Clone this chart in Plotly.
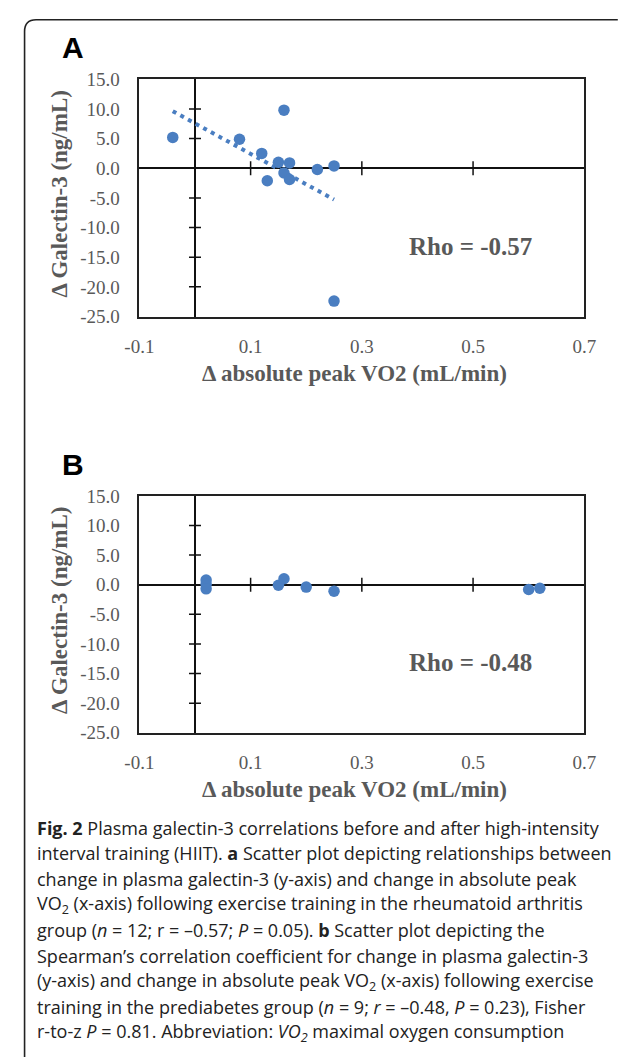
import numpy as np
import plotly.graph_objects as go

# ---------------- data ----------------
a_x = [-0.04, 0.08, 0.16, 0.12, 0.15, 0.17, 0.16, 0.17, 0.13, 0.22, 0.25, 0.25]
a_y = [5.2, 4.9, 9.8, 2.5, 1.0, 0.9, -0.8, -1.9, -2.1, -0.2, 0.4, -22.4]

b_x = [0.02, 0.02, 0.02, 0.15, 0.16, 0.20, 0.25, 0.60, 0.62]
b_y = [0.8, 0.1, -0.7, -0.1, 1.0, -0.4, -1.1, -0.8, -0.6]

x_ticks = [-0.1, 0.1, 0.3, 0.5, 0.7]
x_tick_labels = ["-0.1", "0.1", "0.3", "0.5", "0.7"]
y_ticks = [15, 10, 5, 0, -5, -10, -15, -20, -25]
y_tick_labels = ["15.0", "10.0", "5.0", "0.0", "-5.0", "-10.0", "-15.0", "-20.0", "-25.0"]

x_title = "Δ absolute peak VO2 (mL/min)"
y_title = "Δ Galectin-3 (ng/mL)"
rho_a = "Rho = -0.57"
rho_b = "Rho = -0.48"

caption_lines = [
    "<b>Fig. 2</b> Plasma galectin-3 correlations before and after high-intensity",
    "interval training (HIIT). <b>a</b> Scatter plot depicting relationships between",
    "change in plasma galectin-3 (y-axis) and change in absolute peak",
    "VO<sub>2</sub> (x-axis) following exercise training in the rheumatoid arthritis",
    "group (<i>n</i> = 12; r = –0.57; <i>P</i> = 0.05). <b>b</b> Scatter plot depicting the",
    "Spearman’s correlation coefficient for change in plasma galectin-3",
    "(y-axis) and change in absolute peak VO<sub>2</sub> (x-axis) following exercise",
    "training in the prediabetes group (<i>n</i> = 9; <i>r</i> = –0.48, <i>P</i> = 0.23), Fisher",
    "r-to-z <i>P</i> = 0.81. Abbreviation: <i>VO<sub>2</sub></i> maximal oxygen consumption",
]

# ---------------- layout constants ----------------
W, H = 625, 1063
def px(x):
    return x / W
def py(y):
    return 1 - y / H

BLUE = "#4A7EC1"
GRAY = "#595959"
SERIF = "Liberation Serif, Times New Roman, serif"
SANS = "Liberation Sans, Arial, sans-serif"

x0, x1 = 130, 595
panelA = (70.7, 312.7)
panelB = (495.7, 737.3)

fig = go.Figure()

# Trendline for panel A (least-squares fit of the data)
slope, intercept = np.polyfit(a_x, a_y, 1)
tx = np.array([min(a_x), max(a_x)])
fig.add_trace(go.Scatter(x=tx, y=slope * tx + intercept, mode="lines",
                         line=dict(color=BLUE, width=4, dash="4px,4.7px"),
                         xaxis="x", yaxis="y", hoverinfo="skip", showlegend=False))
fig.add_trace(go.Scatter(x=a_x, y=a_y, mode="markers",
                         marker=dict(color=BLUE, size=11.5), xaxis="x", yaxis="y",
                         showlegend=False))
fig.add_trace(go.Scatter(x=b_x, y=b_y, mode="markers",
                         marker=dict(color=BLUE, size=11.5), xaxis="x2", yaxis="y2",
                         showlegend=False))

def xaxis_cfg(anchor):
    return dict(domain=[px(x0), px(x1)], range=[-0.1, 0.7], anchor=anchor,
                tickvals=x_ticks, ticktext=x_tick_labels, ticks="",
                ticklabelstandoff=12,
                tickfont=dict(family=SERIF, size=19, color=GRAY),
                showgrid=False, zeroline=True, zerolinecolor="#111", zerolinewidth=1.5,
                showline=True, mirror=True, linecolor="#222", linewidth=1.6)

def yaxis_cfg(anchor, top, bottom):
    return dict(domain=[py(bottom), py(top)], range=[-25, 15], anchor=anchor,
                tickvals=y_ticks, ticktext=y_tick_labels, ticks="",
                ticklabelstandoff=14,
                tickfont=dict(family=SERIF, size=19, color=GRAY),
                showgrid=False, zeroline=True, zerolinecolor="#111", zerolinewidth=1.5,
                showline=True, mirror=True, linecolor="#222", linewidth=1.6)

fig.update_layout(
    width=W, height=H, margin=dict(l=0, r=0, t=0, b=0),
    paper_bgcolor="white", plot_bgcolor="white",
    xaxis=xaxis_cfg("y"), yaxis=yaxis_cfg("x", *panelA),
    xaxis2=xaxis_cfg("y2"), yaxis2=yaxis_cfg("x2", *panelB),
    showlegend=False,
)

shapes = []
# cross tick marks on zero lines
for xr, yr in (("x", "y"), ("x2", "y2")):
    for t in y_ticks:
        if t in (max(y_ticks), min(y_ticks), 0):
            continue
        shapes.append(dict(type="line", xref=xr, yref=yr, xsizemode="pixel", xanchor=0,
                           x0=-6, x1=6, y0=t, y1=t, line=dict(color="#111", width=1.5)))
    for t in x_ticks:
        if t in (max(x_ticks), min(x_ticks)):
            continue
        shapes.append(dict(type="line", xref=xr, yref=yr, ysizemode="pixel", yanchor=0,
                           y0=-7, y1=7, x0=t, x1=t, line=dict(color="#111", width=1.5)))

# rounded frame (top-left corner)
fl, ft, r = 10, 10, 12
path = (f"M {px(fl)},{py(H + 5)} L {px(fl)},{py(ft + r)} "
        f"Q {px(fl)},{py(ft)} {px(fl + r)},{py(ft)} L {px(W + 5)},{py(ft)}")
shapes.append(dict(type="path", xref="paper", yref="paper", path=path,
                   line=dict(color="#222", width=1.6)))
fig.update_layout(shapes=shapes)

ann = []
for letter, (top, bottom), rho in (("A", panelA, rho_a), ("B", panelB, rho_b)):
    ann.append(dict(text=f"<b>{letter}</b>", x=px(61), y=py(top - 32), xref="paper", yref="paper",
                    showarrow=False, xanchor="center", yanchor="middle",
                    font=dict(family=SANS, size=30, color="black")))
    ann.append(dict(text=f"<b>{y_title}</b>", x=px(47), y=py((top + bottom) / 2 - 4.5),
                    xref="paper", yref="paper", textangle=-90, showarrow=False,
                    xanchor="center", yanchor="middle",
                    font=dict(family=SERIF, size=23, color=GRAY)))
    ann.append(dict(text=f"<b>{x_title}</b>", x=px((x0 + x1) / 2 - 8), y=py(bottom + 58),
                    xref="paper", yref="paper", showarrow=False,
                    xanchor="center", yanchor="middle",
                    font=dict(family=SERIF, size=23, color=GRAY)))
    ann.append(dict(text=f"<b>{rho}</b>", x=px(476), y=py(top + 0.705 * (bottom - top)),
                    xref="paper", yref="paper", showarrow=False,
                    xanchor="center", yanchor="middle",
                    font=dict(family=SERIF, size=25, color=GRAY)))

baseline0, step = 840, 26.2
for i, line in enumerate(caption_lines):
    ann.append(dict(text=line, x=px(21), y=py(baseline0 + i * step - 6),
                    xref="paper", yref="paper", showarrow=False,
                    xanchor="left", yanchor="middle",
                    font=dict(family="Open Sans, sans-serif", size=18, color="#222")))

fig.update_layout(annotations=ann)
fig.write_html("out.html", config={"displayModeBar": False},
               post_script="document.body.style.margin='0';document.body.style.overflow='hidden';")
